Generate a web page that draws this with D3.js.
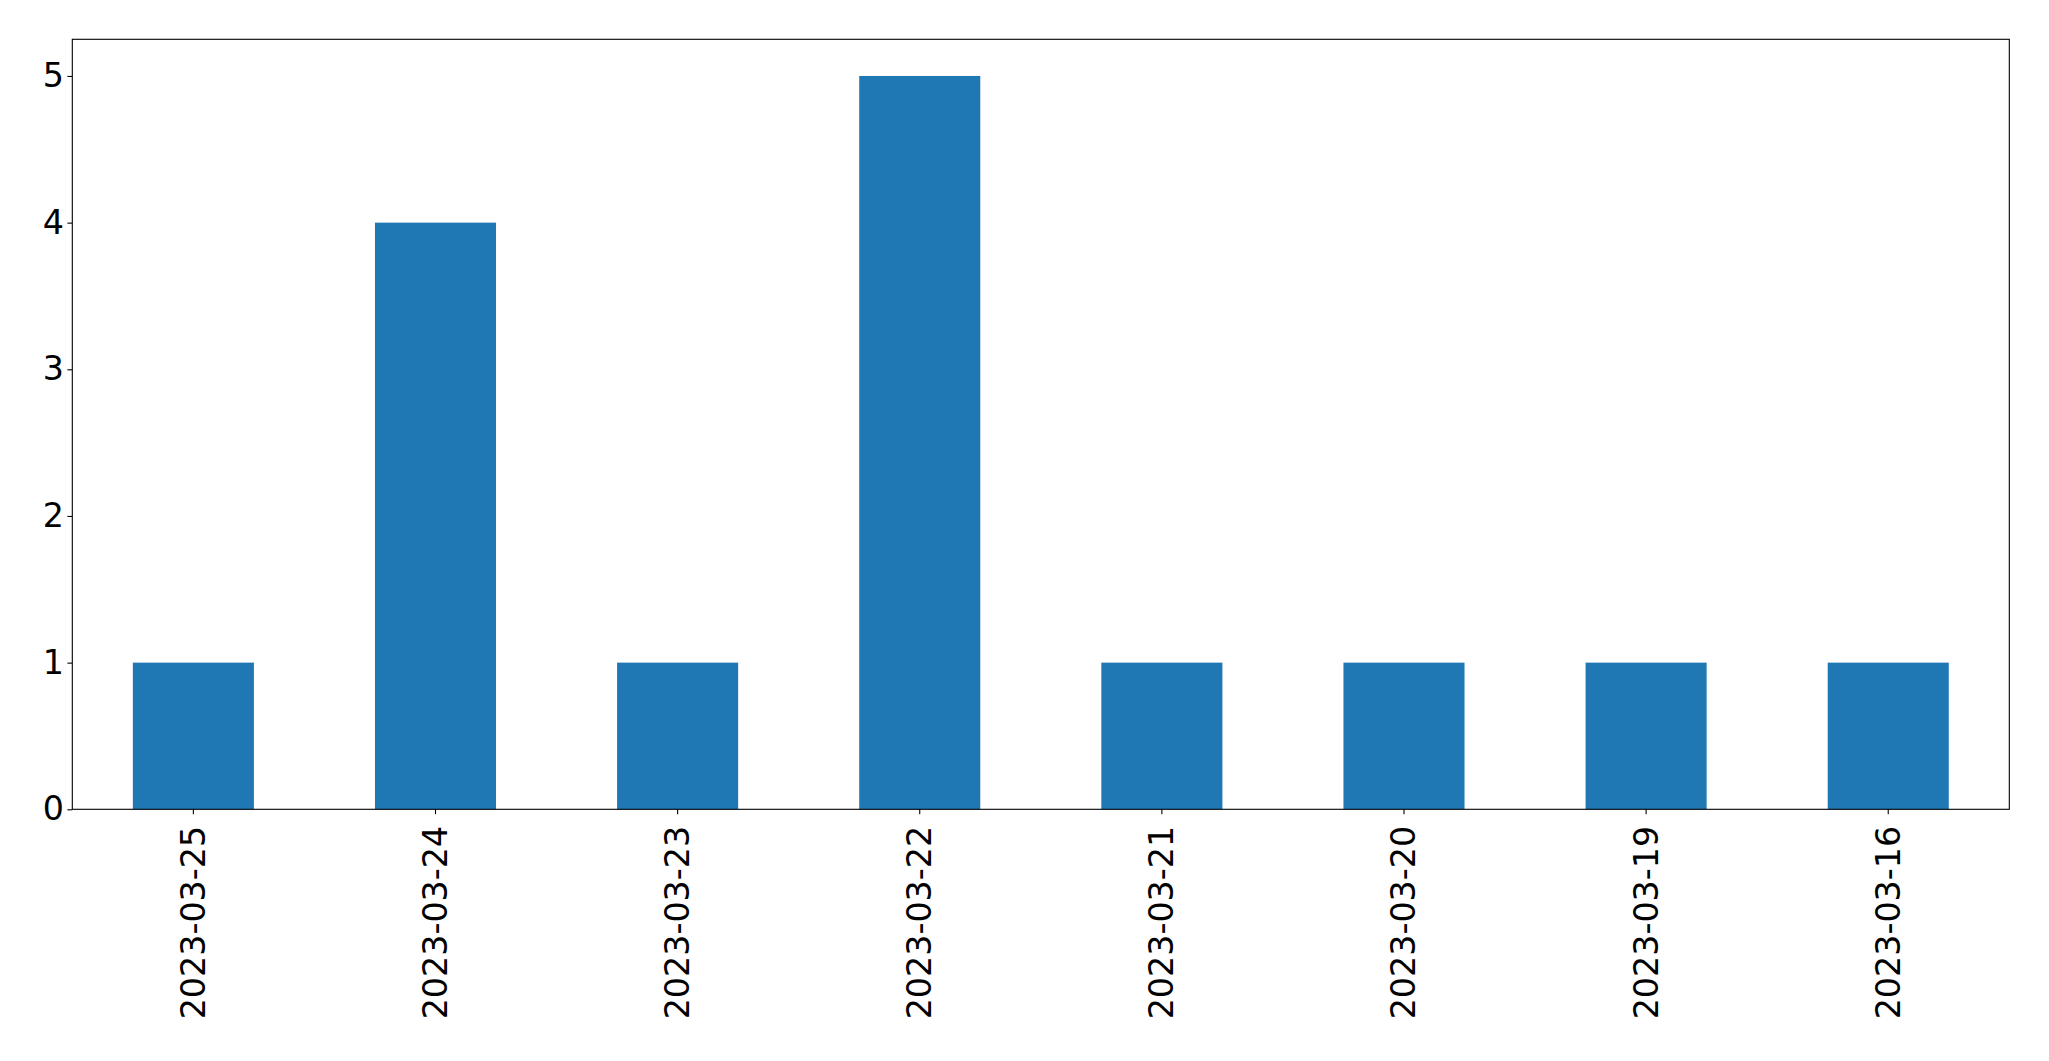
<!DOCTYPE html>
<html><head><meta charset="utf-8">
<script src="https://cdn.jsdelivr.net/npm/d3@7"></script>
<style>body{margin:0;background:#fff}svg{display:block}</style>
</head><body>
<svg id="c" width="2049" height="1061"></svg>
<script>
const categories = ["2023-03-25","2023-03-24","2023-03-23","2023-03-22","2023-03-21","2023-03-20","2023-03-19","2023-03-16"];
const values = [1,4,1,5,1,1,1,1];
const yTicks = [0,1,2,3,4,5];

const W = 2049, H = 1061;
const m = {left:72.3, right:2049-2009.3, top:39.3, bottom:1061-809.3};
const svg = d3.select("#c");
const pw = W - m.left - m.right, ph = H - m.top - m.bottom;
const g = svg.append("g").attr("transform",`translate(${m.left},${m.top})`);

const x = d3.scaleBand().domain(categories).range([0,pw]).paddingInner(0.5).paddingOuter(0.25);
const y = d3.scaleLinear().domain([0,5.25]).range([ph,0]);

g.selectAll("rect.bar").data(values).join("rect")
  .attr("class","bar")
  .attr("x",(d,i)=>x(categories[i]))
  .attr("width",x.bandwidth())
  .attr("y",d=>y(d))
  .attr("height",d=>y(0)-y(d))
  .attr("fill","#1f77b4");

const font = "DejaVu Sans";
const fs = "33.3px";
const xa = g.append("g").attr("transform",`translate(0,${ph})`)
  .call(d3.axisBottom(x).tickSizeInner(4.9).tickSizeOuter(0).tickPadding(4.9));
xa.select(".domain").remove();
xa.selectAll("line").attr("stroke","#000").attr("stroke-width",1.1);
xa.selectAll("text")
  .attr("font-family",font).attr("font-size",fs).attr("fill","#000")
  .attr("text-anchor","end")
  .attr("dy",null)
  .attr("dominant-baseline","central")
  .attr("transform","translate(0,16.5) rotate(-90)")
  .attr("y",0).attr("x",0);

const ya = g.append("g")
  .call(d3.axisLeft(y).tickValues(yTicks).tickFormat(d3.format("d")).tickSizeInner(4.9).tickSizeOuter(0).tickPadding(3.5));
ya.select(".domain").remove();
ya.selectAll("line").attr("stroke","#000").attr("stroke-width",1.1);
ya.selectAll("text").attr("font-family",font).attr("font-size",fs).attr("fill","#000");

g.append("rect").attr("x",0).attr("y",0).attr("width",pw).attr("height",ph)
  .attr("fill","none").attr("stroke","#000").attr("stroke-width",1.1);
</script>
</body></html>
